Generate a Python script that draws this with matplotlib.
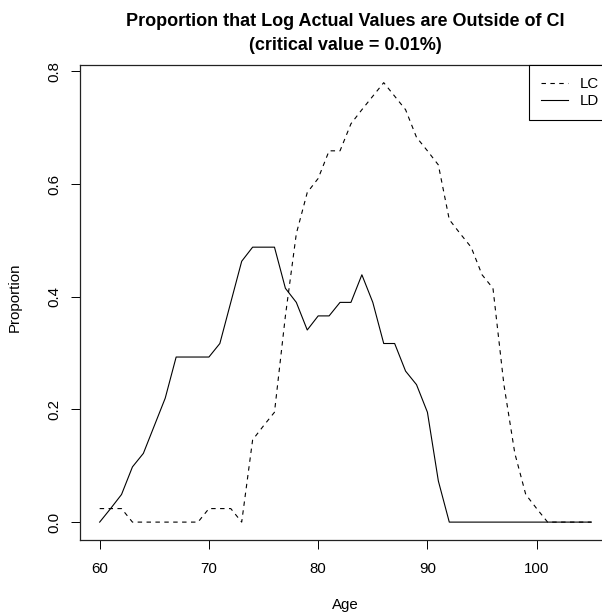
# 연령별 신뢰구간 밖 비율 (LC / LD)
import matplotlib
matplotlib.use('Agg')
import matplotlib.pyplot as plt

plt.rcParams['font.family'] = ['Liberation Sans', 'DejaVu Sans']

# 데이터
ages = list(range(60, 106))
lc = [0.024, 0.024, 0.024, 0.0, 0.0, 0.0, 0.0, 0.0, 0.0, 0.0,
      0.024, 0.024, 0.024, 0.0, 0.146, 0.171, 0.195, 0.366, 0.512, 0.585,
      0.610, 0.659, 0.659, 0.707, 0.732, 0.756, 0.780, 0.756, 0.732, 0.683,
      0.659, 0.634, 0.537, 0.512, 0.488, 0.439, 0.415, 0.244, 0.122, 0.049,
      0.024, 0.0, 0.0, 0.0, 0.0, 0.0]
ld = [0.0, 0.024, 0.049, 0.098, 0.122, 0.171, 0.220, 0.293, 0.293, 0.293,
      0.293, 0.317, 0.390, 0.463, 0.488, 0.488, 0.488, 0.415, 0.390, 0.341,
      0.366, 0.366, 0.390, 0.390, 0.439, 0.390, 0.317, 0.317, 0.268, 0.244,
      0.195, 0.073, 0.0, 0.0, 0.0, 0.0, 0.0, 0.0, 0.0, 0.0,
      0.0, 0.0, 0.0, 0.0, 0.0, 0.0]
series_names = ['LC', 'LD']
x_ticks = [60, 70, 80, 90, 100]
y_ticks = [0.0, 0.2, 0.4, 0.6, 0.8]

fs = 10.8  # 눈금/축 글자 크기

fig = plt.figure(figsize=(6.02, 6.13), dpi=100)
# 오른쪽은 원본처럼 잘리도록 축을 그림 밖까지 늘림
ax = fig.add_axes([0.1329, 0.1196, 0.882, 0.7747])

ax.plot(ages, lc, color='black', lw=0.8, ls=(0, (4, 4)), label=series_names[0])
ax.plot(ages, ld, color='black', lw=0.8, label=series_names[1])

ax.set_xlim(58.2, 106.8)
ax.set_ylim(-0.0312, 0.8117)
ax.set_xticks(x_ticks)
ax.set_xticklabels([str(t) for t in x_ticks])
ax.set_yticks(y_ticks)
ax.set_yticklabels(['%.1f' % t for t in y_ticks], rotation=90, va='center')
ax.tick_params(direction='out', length=6.5, width=0.7, labelsize=fs, color='black')
ax.tick_params(axis='x', pad=9.5)
ax.tick_params(axis='y', pad=7)
for s in ax.spines.values():
    s.set_linewidth(0.9)
    s.set_color('#222222')

# 축 이름
fig.text(345.5 / 602, 1 - 605 / 613, 'Age', ha='center', va='center', fontsize=fs)
fig.text(15 / 602, 1 - 297 / 613, 'Proportion', ha='center', va='center', rotation=90, fontsize=fs)

# 제목 (두 줄)
fig.text(345.5 / 602, 1 - 22 / 613, 'Proportion that Log Actual Values are Outside of CI',
         ha='center', va='center', fontsize=13, fontweight='bold')
fig.text(345.5 / 602, 1 - 45 / 613, '(critical value = 0.01%)',
         ha='center', va='center', fontsize=13, fontweight='bold')

leg = ax.legend(loc='upper right', bbox_to_anchor=(1, 1), borderaxespad=0, fancybox=False,
                framealpha=1, edgecolor='black', fontsize=fs, handlelength=1.8,
                handletextpad=0.75, borderpad=0.8, labelspacing=0.2)
leg.get_frame().set_linewidth(0.8)

plt.savefig('out.png', dpi=100)
